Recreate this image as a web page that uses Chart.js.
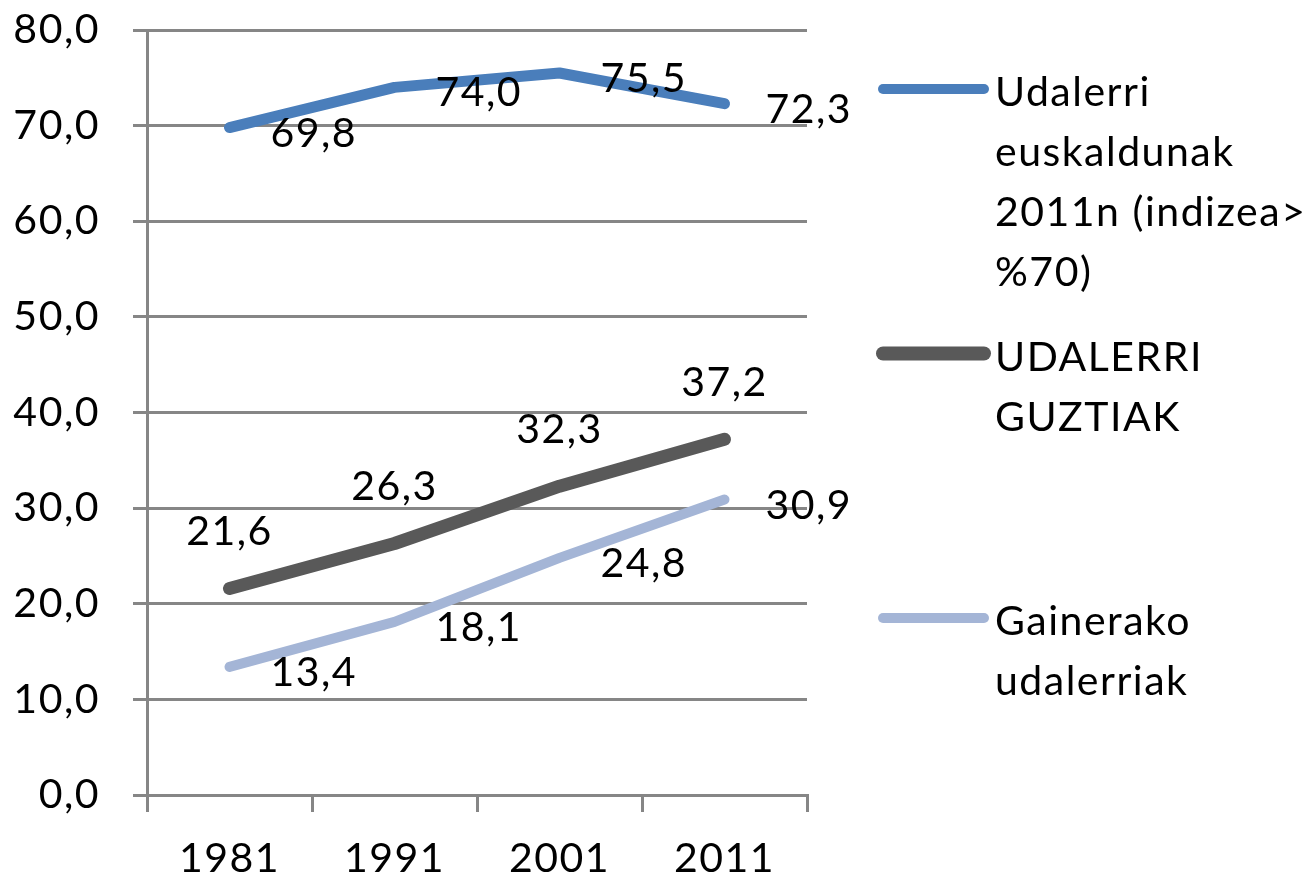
<!DOCTYPE html>
<html>
<head>
<meta charset="utf-8">
<script src="https://cdn.jsdelivr.net/npm/chart.js@4.4.0/dist/chart.umd.min.js"></script>
<style>
  html, body { margin: 0; padding: 0; background: #fff; }
  #wrap { width: 1313px; height: 880px; }
</style>
</head>
<body>
<div id="wrap"><canvas id="chart" width="1313" height="880"></canvas></div>
<script>
const years = ["1981", "1991", "2001", "2011"];
const euskaldunak = [69.8, 74.0, 75.5, 72.3];
const guztiak = [21.6, 26.3, 32.3, 37.2];
const gainerakoak = [13.4, 18.1, 24.8, 30.9];
const seriesNames = [
  ["Udalerri", "euskaldunak", "2011n (indizea>", "%70)"],
  ["UDALERRI", "GUZTIAK"],
  ["Gainerako", "udalerriak"],
];

const FONT = "Lato, 'Liberation Sans', sans-serif";
const FSIZE = 41;
const GRID = "#868686";

const fmt = (v) => v.toFixed(1).replace(".", ",");

// slightly wider text, closer to the original office rendering
const spacing = {
  id: "spacing",
  beforeDraw(chart) {
    chart.ctx.letterSpacing = "1.5px";
  },
};

// value labels next to each point, like the excel data labels
const pointLabels = {
  id: "pointLabels",
  afterDatasetsDraw(chart) {
    const ctx = chart.ctx;
    ctx.save();
    ctx.font = FSIZE + "px " + FONT;
    ctx.fillStyle = "#000";
    ctx.textBaseline = "alphabetic";
    chart.data.datasets.forEach((ds, i) => {
      const meta = chart.getDatasetMeta(i);
      meta.data.forEach((pt, j) => {
        const txt = fmt(ds.data[j]);
        if (ds.labelPos === "above") {
          ctx.textAlign = "center";
          ctx.fillText(txt, pt.x, pt.y - 43.5);
        } else {
          ctx.textAlign = "left";
          ctx.fillText(txt, pt.x + 41, pt.y + 19);
        }
      });
    });
    ctx.restore();
  },
};

// legend on the right with wrapped names
const sideLegend = {
  id: "sideLegend",
  afterDraw(chart) {
    const ctx = chart.ctx;
    const x0 = chart.chartArea.right + 76;
    ctx.save();
    ctx.font = FSIZE + "px " + FONT;
    ctx.fillStyle = "#000";
    ctx.textAlign = "left";
    ctx.textBaseline = "alphabetic";
    chart.data.datasets.forEach((ds, i) => {
      const base = 106 + i * 264.5;
      ctx.strokeStyle = ds.borderColor;
      ctx.lineWidth = ds.legendWidth;
      ctx.lineCap = "round";
      ctx.beginPath();
      ctx.moveTo(x0, base - 17);
      ctx.lineTo(x0 + 101, base - 17);
      ctx.stroke();
      seriesNames[i].forEach((line, k) => {
        ctx.fillText(line, x0 + 112, base + k * 60);
      });
    });
    ctx.restore();
  },
};

new Chart(document.getElementById("chart"), {
  type: "line",
  data: {
    labels: years,
    datasets: [
      {
        label: seriesNames[0].join(" "),
        data: euskaldunak,
        borderColor: "#4A7EBB",
        borderWidth: 11,
        legendWidth: 10,
        labelPos: "right",
      },
      {
        label: seriesNames[1].join(" "),
        data: guztiak,
        borderColor: "#595959",
        borderWidth: 13,
        legendWidth: 14,
        labelPos: "above",
      },
      {
        label: seriesNames[2].join(" "),
        data: gainerakoak,
        borderColor: "#A4B5D6",
        borderWidth: 10,
        legendWidth: 10,
        labelPos: "right",
      },
    ],
  },
  options: {
    responsive: false,
    animation: false,
    layout: { padding: { top: 30, right: 506, left: 0, bottom: 0 } },
    elements: {
      point: { radius: 0, hoverRadius: 0 },
      line: { tension: 0, borderCapStyle: "round", borderJoinStyle: "round" },
    },
    plugins: {
      legend: { display: false },
      tooltip: { enabled: false },
    },
    scales: {
      x: {
        offset: true,
        grid: {
          offset: true,
          drawOnChartArea: false,
          drawTicks: true,
          tickLength: 17,
          color: GRID,
          lineWidth: 3,
        },
        border: { display: true, color: GRID, width: 3 },
        ticks: { color: "#000", font: { family: FONT, size: FSIZE }, padding: 22 },
        afterFit(scale) { scale.height = 85; },
      },
      y: {
        min: 0,
        max: 80,
        grid: { color: GRID, lineWidth: 3, tickLength: 14 },
        border: { display: true, color: GRID, width: 3 },
        ticks: {
          stepSize: 10,
          color: "#000",
          font: { family: FONT, size: FSIZE },
          padding: 33,
          callback: (v) => fmt(v),
        },
        afterFit(scale) {
          scale.width = 147;
          scale.paddingTop = 0;
          scale.paddingBottom = 0;
        },
      },
    },
  },
  plugins: [spacing, pointLabels, sideLegend],
});
</script>
</body>
</html>
